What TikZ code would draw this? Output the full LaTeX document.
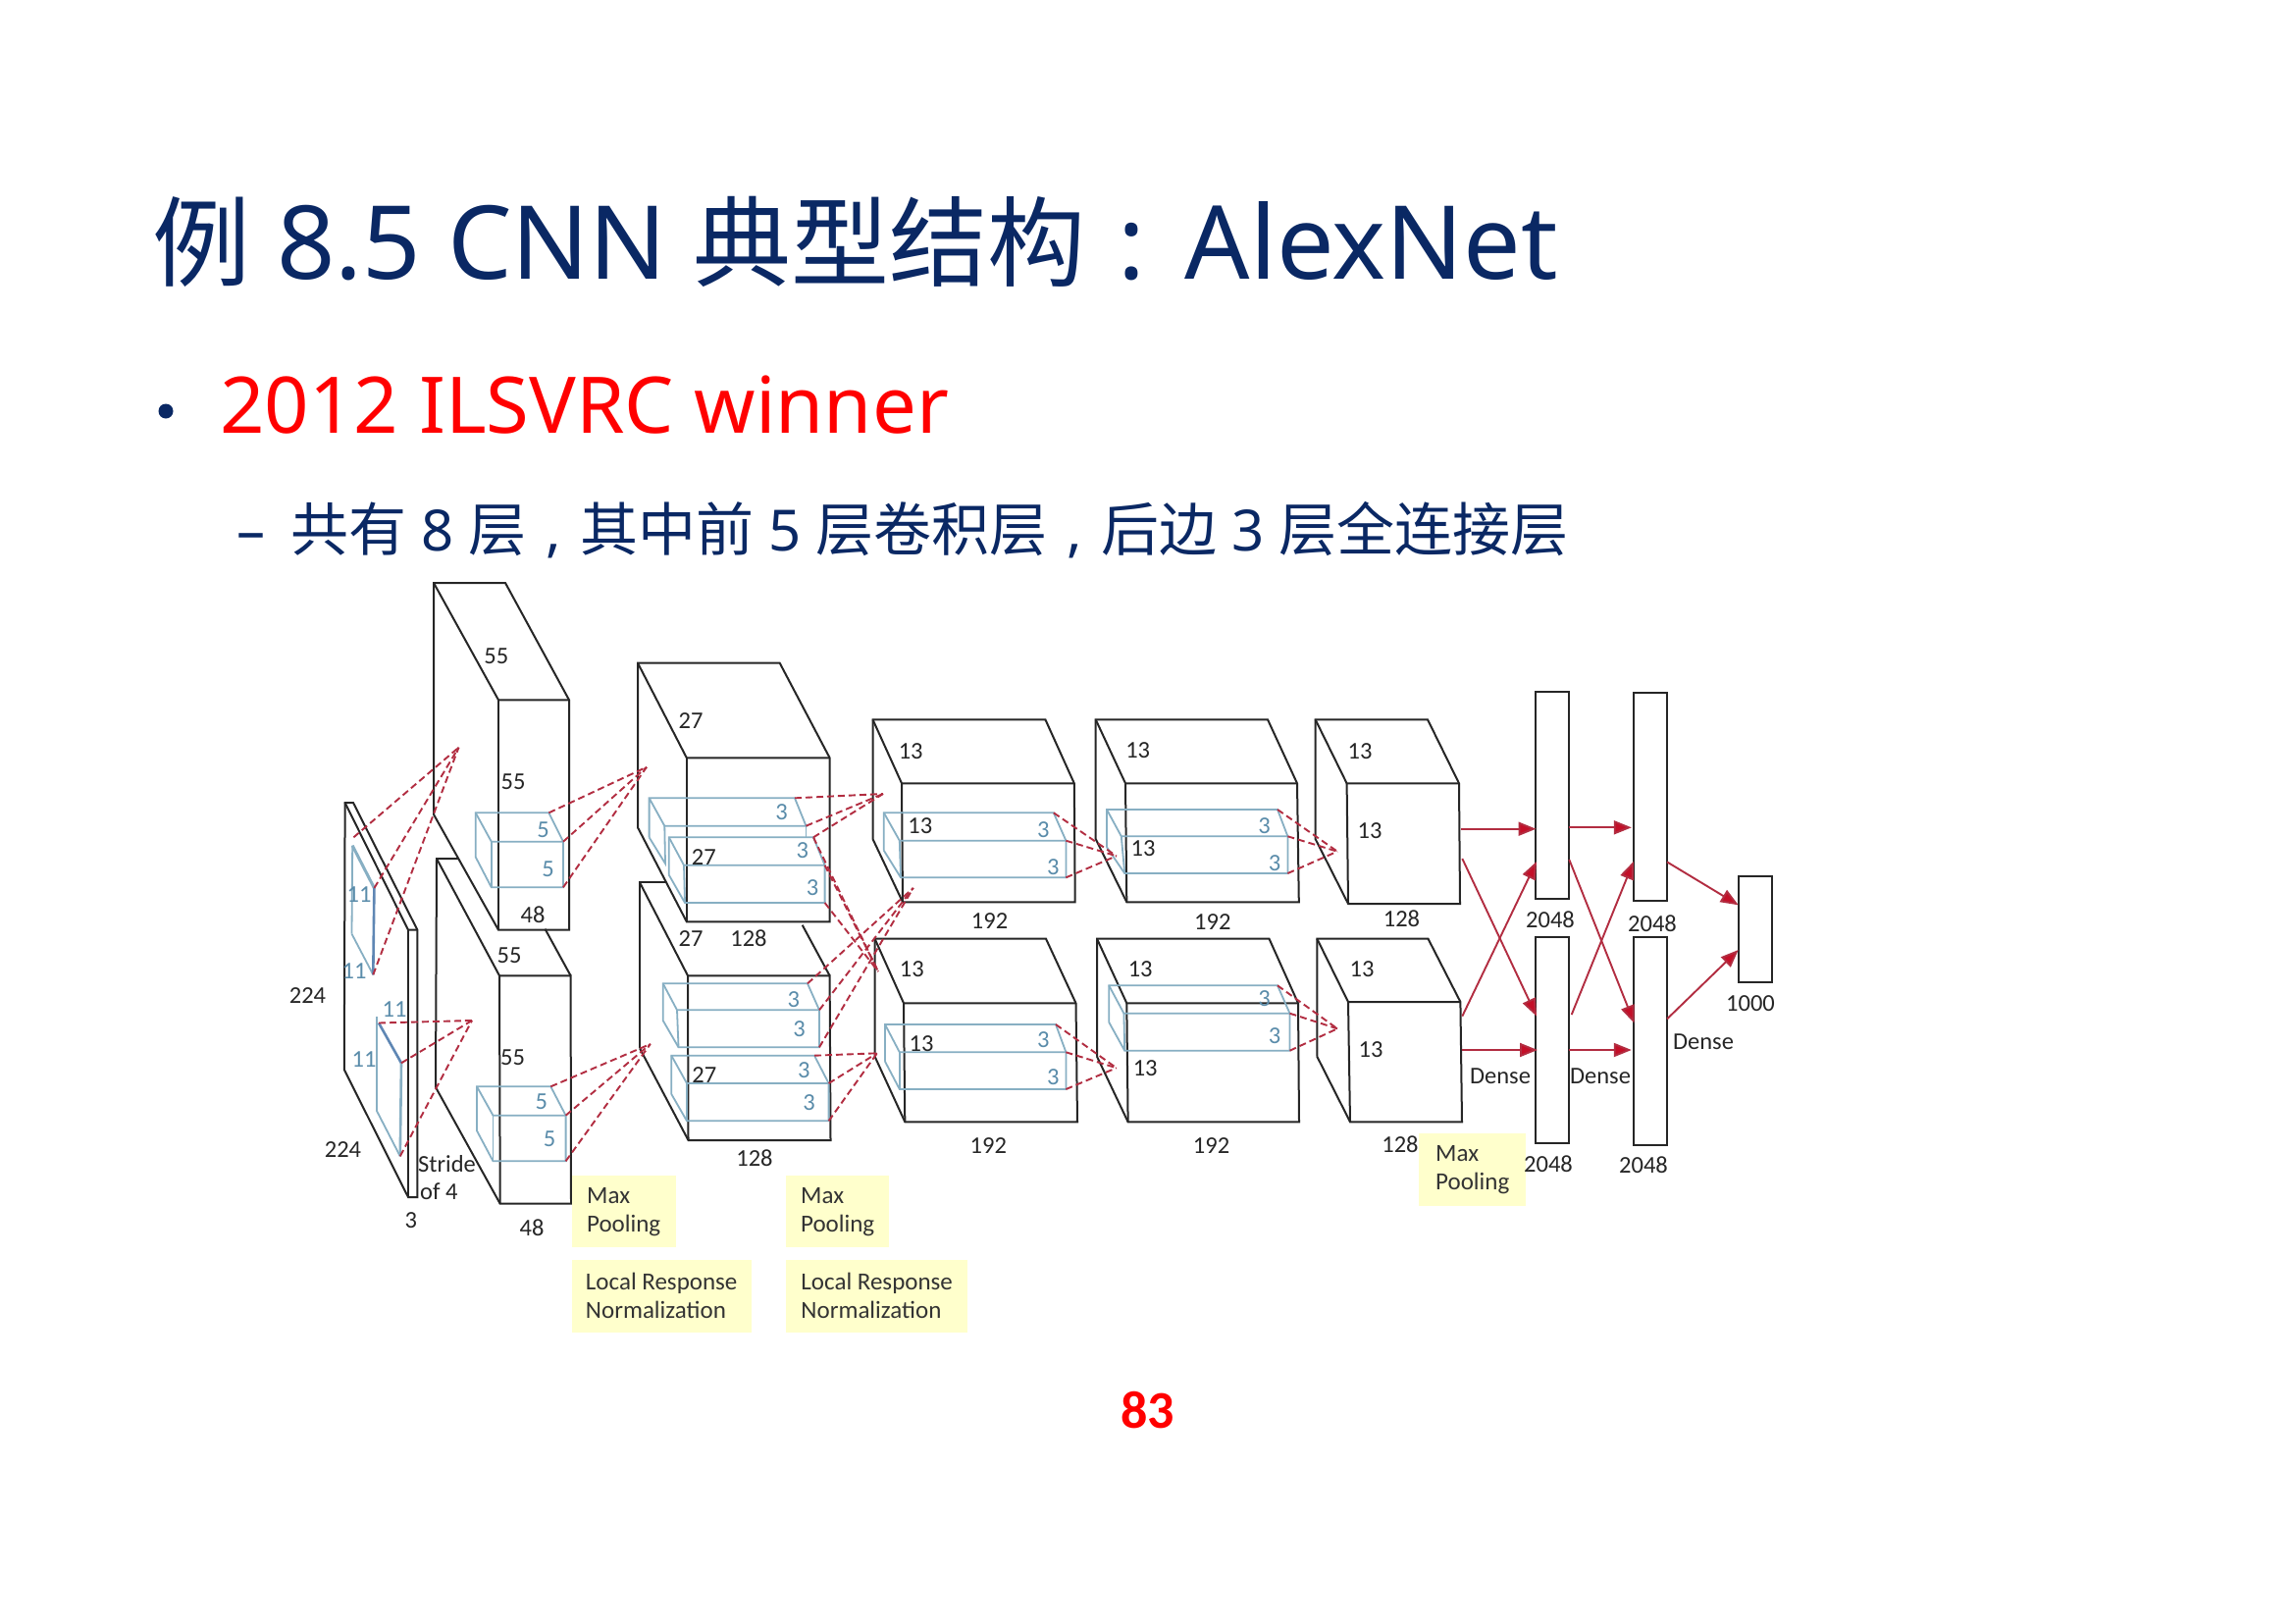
\documentclass[tikz,border=0pt]{standalone}
\usepackage{fontspec}
\setmainfont{Noto Sans}
\newfontfamily\lblfont{Carlito}
\newfontfamily\cjk{Noto Sans CJK SC}
\usetikzlibrary{arrows.meta}
\definecolor{navy}{RGB}{10,40,100}
\definecolor{bluebox}{RGB}{135,175,195}
\definecolor{bluebold}{RGB}{95,135,180}
\definecolor{bluetxt}{RGB}{90,140,170}
\definecolor{redline}{RGB}{178,45,65}
\definecolor{redarr}{RGB}{195,15,40}
\definecolor{ylw}{RGB}{255,255,204}
\tikzset{
 blk/.style={draw=black!85,line width=2pt,line join=miter},
 blu/.style={draw=bluebox,line width=1.8pt},
 blubold/.style={draw=bluebold,line width=2.6pt},
 dsh/.style={draw=redline,line width=1.9pt,dash pattern=on 7pt off 4pt},
 arr/.style={draw=redline,line width=1.9pt,-{Triangle[length=18pt,width=14pt,fill=redarr]}},
 lb/.style={inner sep=0pt,font=\lblfont\fontsize{24.5}{28}\selectfont,text=black!85},
 lbb/.style={inner sep=0pt,font=\lblfont\fontsize{24.5}{28}\selectfont,text=bluetxt},
 ybox/.style={fill=ylw,anchor=north west,inner sep=0pt,inner xsep=14pt,align=left,font=\lblfont\fontsize{25}{29}\selectfont,text=black!80},
 dense/.style={draw=black!85,line width=2pt,inner sep=0pt},
 hd/.style={inner sep=0pt,anchor=base west},
}
\newcommand{\cuboid}[9]{%
 \coordinate (#2-btl) at #3; \coordinate (#2-btr) at #4;
 \coordinate (#2-ftl) at #5; \coordinate (#2-ftr) at #6;
 \coordinate (#2-fbl) at #7; \coordinate (#2-fbr) at #8;
 \coordinate (#2-bbl) at #9;
 \draw[#1] (#2-bbl) -- (#2-btl) -- (#2-btr) -- (#2-ftr) -- (#2-fbr) -- (#2-fbl) -- (#2-bbl);
 \draw[#1] (#2-btl) -- (#2-ftl) -- (#2-ftr);
 \draw[#1] (#2-ftl) -- (#2-fbl);}
\newcommand{\lbl}[3]{\node[lb] (#1) at (#2) {#3};}
\newcommand{\lbu}[3]{\node[lbb] (#1) at (#2) {#3};}
\newcommand{\cT}[1]{{\cjk\fontsize{100}{110}\selectfont #1}}
\newcommand{\cS}[1]{{\cjk\fontsize{59}{66}\selectfont #1}}
\begin{document}
\begin{tikzpicture}[x=1pt,y=-1pt]
\useasboundingbox (0,0) rectangle (2339,1654);
\fill[white] (0,0) rectangle (2339,1654);
% headings
\node[hd,text=navy,font=\fontsize{104}{110}\selectfont] (title) at (155,284) {\cT{例} 8.5 CNN \cT{典型结构}\hspace{33pt}:\hspace{40pt}AlexNet};
\node[inner sep=0pt,fill=navy,circle,minimum size=15pt] (bul) at (169,419) {};
\node[hd,text=red,font=\fontsize{79.6}{90}\selectfont] (sub1) at (224,441) {2012 ILSVRC winner};
\node[hd,text=navy,font=\fontsize{58}{66}\selectfont] (sub2) at (241,561) {–\hspace{26pt}\cS{共有} 8 \cS{层}\hspace{4.5pt} , \hspace{4.5pt}\cS{其中前} 5 \cS{层卷积层}\hspace{4.5pt} , \hspace{4.5pt}\cS{后边} 3 \cS{层全连接层}};
\node[inner sep=0pt,text=red,font=\lblfont\bfseries\fontsize{54}{60}\selectfont] (pg) at (1169.5,1437) {83};
% input volume
\coordinate (in-bbl) at (350.8,1090); \coordinate (in-btl) at (351.6,818); \coordinate (in-btr) at (360,818);
\coordinate (in-ftl) at (416,947.7); \coordinate (in-ftr) at (425.4,947.7);
\coordinate (in-fbl) at (416,1220); \coordinate (in-fbr) at (425.4,1220);
\draw[blk] (in-bbl) -- (in-btl) -- (in-btr) -- (in-ftr) -- (in-fbr) -- (in-fbl) -- (in-bbl);
\draw[blk] (in-btl) -- (in-ftl) -- (in-ftr); \draw[blk] (in-ftl) -- (in-fbl);
% layer 2
\cuboid{blk}{a}{(442,594)}{(515,594)}{(508,713.3)}{(580,713.3)}{(508,947.7)}{(580,947.7)}{(442,830)}
\coordinate (b-btl) at (445,875); \coordinate (b-btr) at (467.5,875); \coordinate (b-ftl) at (509,994.3);
\coordinate (b-ftr) at (581.6,994.3); \coordinate (b-bre) at (555.5,946.7);
\coordinate (b-fbl) at (509.7,1226.7); \coordinate (b-fbr) at (582,1226.7); \coordinate (b-bbl) at (444,1108);
\draw[blk] (b-bbl) -- (b-btl) -- (b-btr);
\draw[blk] (b-btl) -- (b-ftl) -- (b-ftr) -- (b-fbr) -- (b-fbl) -- (b-bbl);
\draw[blk] (b-ftl) -- (b-fbl); \draw[blk] (b-bre) -- (b-ftr);
% layer 3
\cuboid{blk}{c}{(650,675.7)}{(794.7,675.7)}{(699.8,772.3)}{(845.6,772.3)}{(699.8,939.3)}{(845.6,939.3)}{(650,843.3)}
\coordinate (d-btl) at (652,899.3); \coordinate (d-btr) at (678.8,899.3); \coordinate (d-ftl) at (701,994.3);
\coordinate (d-ftr) at (845.6,994.3); \coordinate (d-bre) at (817.7,942.7);
\coordinate (d-fbl) at (701.5,1162); \coordinate (d-fbr) at (846.5,1162); \coordinate (d-bbl) at (652,1068.3);
\draw[blk] (d-bbl) -- (d-btl) -- (d-btr);
\draw[blk] (d-btl) -- (d-ftl) -- (d-ftr) -- (d-fbr) -- (d-fbl) -- (d-bbl);
\draw[blk] (d-ftl) -- (d-fbl); \draw[blk] (d-bre) -- (d-ftr);
% layers 4, 5, 6
\cuboid{blk}{e}{(889.5,733.3)}{(1065.4,733.3)}{(919,798.3)}{(1094.8,798.3)}{(920,919.3)}{(1095.7,919.3)}{(889.5,855)}
\cuboid{blk}{f}{(891.6,956.7)}{(1066,956.7)}{(921,1022.3)}{(1096.5,1022.3)}{(922.3,1143.3)}{(1098,1143.3)}{(891.6,1076.7)}
\cuboid{blk}{g}{(1116.7,733.3)}{(1292,733.3)}{(1147,798.3)}{(1322,798.3)}{(1148.3,919.3)}{(1323.8,919.3)}{(1116.7,855)}
\cuboid{blk}{h}{(1118,956.7)}{(1293.5,956.7)}{(1148.3,1022.3)}{(1323,1022.3)}{(1149.6,1143.3)}{(1324,1143.3)}{(1118,1076.7)}
\cuboid{blk}{i}{(1340.6,733.3)}{(1455,733.3)}{(1372.6,798.3)}{(1487,798.3)}{(1374,921)}{(1488,921)}{(1340.6,855)}
\cuboid{blk}{j}{(1342.3,956.7)}{(1455.5,956.7)}{(1374,1021)}{(1488.4,1021)}{(1376,1143.3)}{(1490,1143.3)}{(1342.3,1076.7)}
% dense boxes
\node[dense,minimum width=34pt,minimum height=211pt] (D1t) at (1581.7,810.5) {};
\node[dense,minimum width=34pt,minimum height=210.5pt] (D1b) at (1581.7,1060.2) {};
\node[dense,minimum width=34.2pt,minimum height=211.5pt] (D2t) at (1681.9,812.2) {};
\node[dense,minimum width=34.2pt,minimum height=212pt] (D2b) at (1681.9,1061) {};
\node[dense,minimum width=34pt,minimum height=108pt] (out) at (1789,947) {};
% blue kernels: input
\coordinate (k1a) at (359.2,861.7); \coordinate (k1b) at (381.4,905); \coordinate (k1c) at (380.3,993.3); \coordinate (k1d) at (358.5,951.7); \coordinate (k1e) at (360.4,853.3);
\draw[blu] (k1d) -- (k1a); \draw[blu] (k1d) -- (k1c);
\draw[blu,line width=3pt] (k1a) -- (k1b);
\draw[blubold] (k1b) -- (k1c);
\coordinate (k2a) at (383.8,1036); \coordinate (k2b) at (409,1083.3); \coordinate (k2c) at (407.8,1178.3); \coordinate (k2d) at (383.8,1131.7); \coordinate (k2e) at (386,1042.5);
\draw[blu] (k2d) -- (k2a); \draw[blu] (k2d) -- (k2c);
\draw[blu,line width=2.6pt] (k2b) -- (k2c);
\draw[blubold] (k2e) -- (k2b);
% blue kernels: conv boxes
\cuboid{blu}{m1}{(484.7,828.3)}{(559.4,828.3)}{(500.8,857.7)}{(574,857.7)}{(500.8,904.3)}{(574,904.3)}{(484.7,873.3)}
\cuboid{blu}{m2}{(486,1107.3)}{(561.3,1107.3)}{(502.5,1136.7)}{(576.6,1136.7)}{(502.5,1183.3)}{(576.6,1183.3)}{(486,1152.3)}
\coordinate (m3-btl) at (661.6,813.3); \coordinate (m3-btr) at (810,813.3); \coordinate (m3-ftl) at (677.3,841.7);
\coordinate (m3-ftr) at (821.5,841.7); \coordinate (m3-fbl) at (678,880); \coordinate (m3-bbl) at (661.6,853.3); \coordinate (m3-rb) at (821.5,853.3);
\draw[blu] (m3-bbl) -- (m3-btl) -- (m3-btr) -- (m3-ftr) -- (m3-ftl) -- (m3-btl);
\draw[blu] (m3-bbl) -- (m3-fbl) -- (m3-ftl); \draw[blu] (m3-ftr) -- (m3-rb);
\cuboid{blu}{m4}{(681.8,853.3)}{(829,853.3)}{(697,881.7)}{(840.6,881.7)}{(698,920)}{(840.6,920)}{(681.8,891.7)}
\cuboid{blu}{m5}{(675.7,1002.3)}{(823,1002.3)}{(690,1029.3)}{(835,1029.3)}{(691.5,1067.3)}{(835,1067.3)}{(675.7,1040)}
\cuboid{blu}{m6}{(684.3,1075.7)}{(830,1075.7)}{(700,1104)}{(844.6,1104)}{(700,1142.3)}{(844.6,1142.3)}{(684.3,1115)}
\cuboid{blu}{m7}{(900.8,828.3)}{(1073.8,828.3)}{(916.8,856.7)}{(1086.4,856.7)}{(918,894.3)}{(1086.4,894.3)}{(900.8,866.7)}
\cuboid{blu}{m8}{(902,1044)}{(1076,1044)}{(916.8,1072.3)}{(1086.4,1072.3)}{(916.8,1110)}{(1086.4,1110)}{(902,1081.7)}
\cuboid{blu}{m9}{(1128,825)}{(1302,825)}{(1142.8,852.3)}{(1312.4,852.3)}{(1146.2,890)}{(1312.4,890)}{(1128,863.3)}
\cuboid{blu}{m10}{(1130.2,1004.3)}{(1302,1004.3)}{(1145.4,1032.7)}{(1314.5,1032.7)}{(1146.2,1070.7)}{(1314.5,1070.7)}{(1130.2,1041.7)}
% dashed targets
\coordinate (t1) at (467.5,761.7); \coordinate (t2) at (481,1040);
\coordinate (t3) at (659,781.7); \coordinate (t4) at (662.8,1064);
\coordinate (t5) at (900,809); \coordinate (t6) at (895,990);
\coordinate (t7) at (930.7,905); \coordinate (t8) at (893.9,1073.3);
\coordinate (t9) at (1137.8,872.3); \coordinate (t10) at (1137.8,1088.3);
\coordinate (t11) at (1363,867.7); \coordinate (t12) at (1363,1048.3);
\foreach \s in {k1e,k1b,k1c} \draw[dsh] (\s) -- (t1);
\foreach \s in {k2e,k2b,k2c} \draw[dsh] (\s) -- (t2);
\foreach \s in {m1-btr,m1-ftr,m1-fbr} \draw[dsh] (\s) -- (t3);
\foreach \s in {m2-btr,m2-ftr,m2-fbr} \draw[dsh] (\s) -- (t4);
\foreach \s in {m3-btr,m3-ftr,m4-btr} \draw[dsh] (\s) -- (t5);
\foreach \s in {m4-btr,m4-ftr,m4-fbr} \draw[dsh] (\s) -- (t6);
\foreach \s in {m5-btr,m5-ftr,m5-fbr} \draw[dsh] (\s) -- (t7);
\foreach \s in {m6-btr,m6-ftr,m6-fbr} \draw[dsh] (\s) -- (t8);
\foreach \s in {m7-btr,m7-ftr,m7-fbr} \draw[dsh] (\s) -- (t9);
\foreach \s in {m8-btr,m8-ftr,m8-fbr} \draw[dsh] (\s) -- (t10);
\foreach \s in {m9-btr,m9-ftr,m9-fbr} \draw[dsh] (\s) -- (t11);
\foreach \s in {m10-btr,m10-ftr,m10-fbr} \draw[dsh] (\s) -- (t12);
% dense arrows
\coordinate (p1) at (1489,844.7);   \coordinate (q1) at (1565.5,844.7);
\coordinate (p2) at (1490.3,875);   \coordinate (q2) at (1566,1035.6);
\coordinate (p3) at (1490.3,1035.6);\coordinate (q3) at (1566,878);
\coordinate (p4) at (1489.7,1070);  \coordinate (q4) at (1567,1070);
\coordinate (p5) at (1598.6,843.3); \coordinate (q5) at (1662.8,843.3);
\coordinate (p6) at (1599.3,876);   \coordinate (q6) at (1665.5,1042.6);
\coordinate (p7) at (1601.7,1034);  \coordinate (q7) at (1664.8,878);
\coordinate (p8) at (1598.6,1070);  \coordinate (q8) at (1662.8,1070);
\coordinate (p9) at (1699,878.4);   \coordinate (q9) at (1771.7,922.3);
\coordinate (p10) at (1699,1038.4); \coordinate (q10) at (1771.7,968);
\foreach \n in {1,...,10} \draw[arr] (p\n) -- (q\n);
% yellow notes
\node[ybox,minimum width=106pt,minimum height=73pt] (y1) at (582.5,1198) {Max\\Pooling};
\node[ybox,minimum width=183pt,minimum height=74pt] (y2) at (582.5,1283.3) {Local Response\\Normalization};
\node[ybox,minimum width=105pt,minimum height=73pt] (y3) at (801,1198) {Max\\Pooling};
\node[ybox,minimum width=185pt,minimum height=74pt] (y4) at (801,1283.3) {Local Response\\Normalization};
\node[ybox,inner xsep=17pt,minimum width=107pt,minimum height=74pt] (y5) at (1446,1155) {Max\\Pooling};
% black labels
\lbl{n1}{505.8,669}{55} \lbl{n2}{523,796.7}{55} \lbl{n3}{519,973.3}{55} \lbl{n4}{522.6,1077.7}{55}
\lbl{n5}{543,932.7}{48} \lbl{n6}{542,1251.7}{48}
\lbl{n7}{313.5,1014.5}{224} \lbl{n8}{349.5,1171.7}{224} \lbl{n9}{418.8,1244}{3}
\node[lb,anchor=west] (n10) at (426,1186.5) {Stride};
\node[lb,anchor=west] (n11) at (428,1214.5) {of 4};
\lbl{n12}{704,734.3}{27} \lbl{n13}{717.4,873.3}{27} \lbl{n14}{704,956.7}{27} \lbl{n15}{763,956.7}{128}
\lbl{n16}{717.8,1095.7}{27} \lbl{n17}{769,1180.7}{128}
\lbl{n18}{928.2,765.7}{13} \lbl{n19}{937.9,841.7}{13} \lbl{n20}{929.4,987.7}{13} \lbl{n21}{939,1064}{13}
\lbl{n22}{1008.6,938.3}{192} \lbl{n23}{1007.3,1167.3}{192}
\lbl{n24}{1159.7,765}{13} \lbl{n25}{1165,865}{13} \lbl{n26}{1162.2,987.7}{13} \lbl{n27}{1167.2,1089}{13}
\lbl{n28}{1235.8,940}{192} \lbl{n29}{1234.6,1167.3}{192}
\lbl{n30}{1386,765.4}{13} \lbl{n31}{1396,847}{13} \lbl{n32}{1388,988}{13} \lbl{n33}{1397,1069.6}{13}
\lbl{n34}{1428.5,936.7}{128} \lbl{n35}{1427,1166}{128}
\lbl{n36}{1580,937}{2048} \lbl{n37}{1684,941}{2048} \lbl{n38}{1578,1186}{2048} \lbl{n39}{1675,1187}{2048} \lbl{n40}{1784,1023}{1000}
\lbl{n41}{1736,1062}{Dense} \lbl{n42}{1529,1096.5}{Dense} \lbl{n43}{1631,1096.5}{Dense}
% blue labels
\lbu{b1}{366,911.7}{11} \lbu{b2}{361,989.3}{11} \lbu{b3}{402,1028.3}{11} \lbu{b4}{371,1079.3}{11}
\lbu{b5}{553.6,845.7}{5} \lbu{b6}{558.6,886}{5} \lbu{b7}{551.8,1122.3}{5} \lbu{b8}{560,1160.7}{5}
\lbu{b9}{796.6,827.3}{3} \lbu{b10}{817.7,866.7}{3} \lbu{b11}{828,905}{3}
\lbu{b12}{808.7,1018.3}{3} \lbu{b13}{814.5,1049}{3} \lbu{b14}{819.2,1091}{3} \lbu{b15}{824.5,1124}{3}
\lbu{b16}{1063.3,846}{3} \lbu{b17}{1073.4,883.3}{3} \lbu{b18}{1063.3,1059.3}{3} \lbu{b19}{1073.4,1097.3}{3}
\lbu{b20}{1288.5,841.7}{3} \lbu{b21}{1299,880}{3} \lbu{b22}{1288.5,1017.3}{3} \lbu{b23}{1299,1055.7}{3}
\end{tikzpicture}
\end{document}
